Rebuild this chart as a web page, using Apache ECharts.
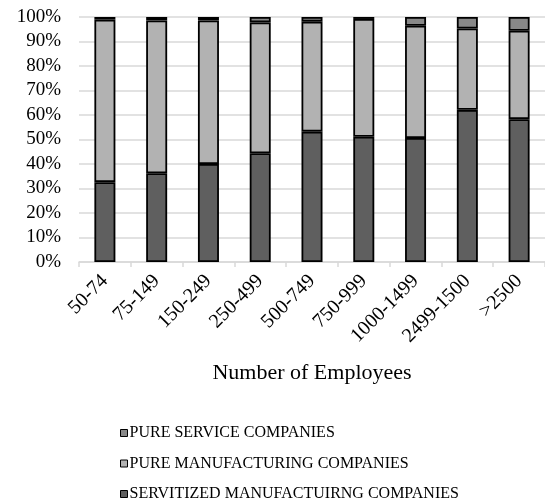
<!DOCTYPE html>
<html>
<head>
<meta charset="utf-8">
<script src="https://cdn.jsdelivr.net/npm/echarts@6/dist/echarts.min.js"></script>
<style>
  html, body { margin: 0; padding: 0; background: #fff; }
  #chart { width: 545px; height: 504px; }
</style>
</head>
<body>
<div id="chart"></div>
<script>
const categories = ['50-74', '75-149', '150-249', '250-499', '500-749', '750-999', '1000-1499', '2499-1500', '>2500']
const servitized = [32.6, 36.2, 40.0, 44.4, 53.2, 51.1, 50.6, 62.1, 58.3]
const pureManufacturing = [66.3, 62.4, 58.6, 53.4, 44.9, 48.1, 45.8, 33.2, 36.1]
const pureService = [1.1, 1.4, 1.4, 2.2, 1.9, 0.8, 3.6, 4.7, 5.6]

const font = 'Liberation Serif'

function barSeries(name, data, color) {
  return {
    name: name,
    type: 'bar',
    stack: 'total',
    data: data,
    barWidth: 21,
    itemStyle: { color: color, borderColor: '#000', borderWidth: 1.8 },
    emphasis: { disabled: true }
  }
}

const chart = echarts.init(document.getElementById('chart'))
chart.setOption({
  animation: false,
  textStyle: { fontFamily: font, color: '#000' },
  grid: { left: 79, right: -5, top: 17, bottom: 242 },
  legend: {
    orient: 'vertical',
    left: 120,
    top: 425,
    height: 120,
    padding: 0,
    itemWidth: 7,
    itemHeight: 7,
    itemGap: 14.5,
    icon: 'rect',
    textStyle: { fontFamily: font, fontSize: 16, color: '#000', lineHeight: 16, padding: [0, 0, 0, -3] },
    itemStyle: { borderColor: '#000', borderWidth: 1 },
    data: ['PURE SERVICE COMPANIES', 'PURE MANUFACTURING COMPANIES', 'SERVITIZED MANUFACTUIRNG COMPANIES']
  },
  xAxis: {
    type: 'category',
    data: categories,
    name: 'Number of Employees',
    nameLocation: 'middle',
    nameGap: 100,
    nameTextStyle: { fontFamily: font, fontSize: 22, color: '#000' },
    axisLine: { lineStyle: { color: '#d9d9d9', width: 1.5 } },
    axisTick: { show: true, length: 5, lineStyle: { color: '#d9d9d9', width: 1.5 } },
    axisLabel: { rotate: 45, fontFamily: font, fontSize: 20, color: '#000', margin: 16 }
  },
  yAxis: {
    type: 'value',
    min: 0,
    max: 100,
    interval: 10,
    axisLine: { show: false },
    axisTick: { show: false },
    splitLine: { lineStyle: { color: '#d9d9d9', width: 1.5 } },
    axisLabel: { formatter: '{value}%', fontFamily: font, fontSize: 19, color: '#000', margin: 18 }
  },
  series: [
    barSeries('SERVITIZED MANUFACTUIRNG COMPANIES', servitized, '#5f5f5f'),
    barSeries('PURE MANUFACTURING COMPANIES', pureManufacturing, '#b2b2b2'),
    barSeries('PURE SERVICE COMPANIES', pureService, '#888888')
  ]
})
</script>
</body>
</html>
